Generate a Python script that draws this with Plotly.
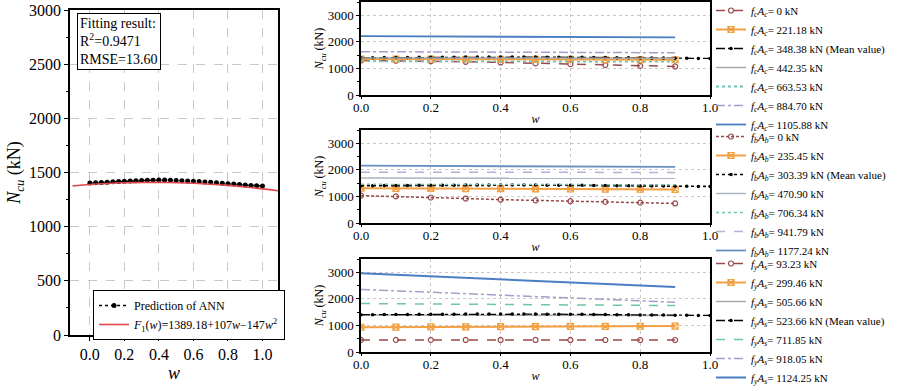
import plotly.graph_objects as go

FONT = "Liberation Serif"

# ---------------- data ----------------
# Left panel: ANN prediction and fitted curve
w_ann = [i / 30 for i in range(31)]
n_ann = [1402, 1405, 1408, 1411, 1414, 1417, 1420, 1422, 1424, 1426, 1428, 1429, 1430, 1430, 1429,
         1427, 1425, 1422, 1419, 1416, 1413, 1409, 1405, 1401, 1397, 1393, 1389, 1385, 1381, 1378, 1376]
w_fit = [-0.1, 0.0, 0.1, 0.2, 0.3, 0.4, 0.5, 0.6, 0.7, 0.8, 0.9, 1.0, 1.1]
n_fit = [1377.0, 1389.2, 1398.4, 1404.7, 1408.0, 1408.5, 1405.9, 1400.5, 1392.0, 1380.7, 1366.4, 1349.2, 1329.0]

w_series = [0.0, 0.1, 0.2, 0.3, 0.4, 0.5, 0.6, 0.7, 0.8, 0.9]

# Panel 1: f_c A_c
fc_labels = ["0 kN", "221.18 kN", "348.38 kN (Mean value)", "442.35 kN", "663.53 kN", "884.70 kN", "1105.88 kN"]
fc_0 = [1300, 1290, 1270, 1250, 1225, 1190, 1160, 1125, 1095, 1075]
fc_221 = [1355, 1352, 1349, 1346, 1343, 1340, 1337, 1334, 1330, 1326]
fc_442 = [1392, 1391, 1390, 1389, 1388, 1387, 1386, 1385, 1384, 1383]
fc_663 = [1272, 1270, 1268, 1266, 1264, 1262, 1260, 1258, 1256, 1254]
fc_884 = [1630, 1626, 1621, 1617, 1612, 1608, 1603, 1599, 1594, 1590]
fc_1105 = [2215, 2210, 2204, 2199, 2193, 2188, 2182, 2177, 2171, 2165]

# Panel 2: f_b A_b
fb_labels = ["0 kN", "235.45 kN", "303.39 kN (Mean value)", "470.90 kN", "706.34 kN", "941.79 kN", "1177.24 kN"]
fb_0 = [1030, 1000, 960, 920, 880, 850, 820, 795, 765, 735]
fb_235 = [1310, 1305, 1300, 1295, 1290, 1285, 1280, 1275, 1270, 1265]
fb_470 = [1695, 1693, 1692, 1690, 1689, 1687, 1686, 1684, 1682, 1680]
fb_706 = [1455, 1453, 1452, 1450, 1448, 1447, 1445, 1443, 1442, 1440]
fb_941 = [1912, 1911, 1910, 1909, 1908, 1907, 1906, 1905, 1904, 1903]
fb_1177 = [2160, 2154, 2149, 2143, 2138, 2132, 2127, 2121, 2116, 2110]

# Panel 3: f_y A_s
fy_labels = ["93.23 kN", "299.46 kN", "505.66 kN", "523.66 kN (Mean value)", "711.85 kN", "918.05 kN", "1124.25 kN"]
fy_93 = [456, 455, 455, 454, 454, 453, 453, 452, 452, 451]
fy_299 = [932, 937, 942, 947, 952, 957, 962, 966, 970, 975]
fy_505 = [1395, 1393, 1391, 1389, 1387, 1385, 1383, 1380, 1378, 1375]
fy_711 = [1823, 1815, 1806, 1798, 1790, 1781, 1773, 1764, 1755, 1747]
fy_918 = [2355, 2301, 2248, 2194, 2141, 2087, 2034, 1980, 1927, 1873]
fy_1124 = [2960, 2900, 2845, 2790, 2730, 2670, 2615, 2560, 2500, 2445]

# ---------------- styles ----------------
BROWN = "#9A4A4A"
ORANGE = "#F2A041"
GREY = "#A9A9A9"
TEAL = "#6CC4B2"
PURPLE = "#A99CCB"
BLUE = "#4A7EC2"
RED = "#E0474C"

fig = go.Figure()

# Left panel
fig.add_trace(go.Scatter(x=w_ann, y=n_ann, mode="lines+markers", name="Prediction of ANN",
                         line=dict(color="black", dash="dot", width=1.5),
                         marker=dict(color="black", size=5), xaxis="x", yaxis="y", legend="legend"))
fig.add_trace(go.Scatter(x=w_fit, y=n_fit, mode="lines", line_shape="spline",
                         name="<i>F</i><sub>1</sub>(<i>w</i>)=1389.18+107<i>w</i>−147<i>w</i><sup>2</sup>",
                         line=dict(color=RED, width=1.6), xaxis="x", yaxis="y", legend="legend"))


def add_panel(ax, leg, sym, labels, series, styles):
    for lab, ys, st in zip(labels, series, styles):
        xs = w_ann if st.get("mean") else w_series
        yv = n_ann if st.get("mean") else ys
        mode = "lines+markers" if st.get("marker") else "lines"
        kw = dict(x=xs, y=yv, mode=mode, name=f"{sym}= {lab}",
                  line=dict(color=st["color"], dash=st.get("dash", "solid"), width=st.get("width", 1.5)),
                  xaxis="x" + ax, yaxis="y" + ax, legend=leg)
        if st.get("marker"):
            kw["marker"] = st["marker"]
        fig.add_trace(go.Scatter(**kw))


circ = dict(symbol="circle-open", size=5, color=BROWN, line=dict(width=1.2, color=BROWN))
sqx = dict(symbol="square-x-open", size=6, color=ORANGE, line=dict(width=1.2, color=ORANGE))
dotm = dict(symbol="circle", size=3.5, color="black")

sym_c = "<i>f</i><sub><i>c</i></sub><i>A</i><sub><i>c</i></sub>"
sym_b = "<i>f</i><sub><i>b</i></sub><i>A</i><sub><i>b</i></sub>"
sym_y = "<i>f</i><sub><i>y</i></sub><i>A</i><sub><i>s</i></sub>"

add_panel("2", "legend2", sym_c, fc_labels,
          [fc_0, fc_221, None, fc_442, fc_663, fc_884, fc_1105],
          [dict(color=BROWN, dash="dash", marker=circ),
           dict(color=ORANGE, marker=sqx, width=2),
           dict(color="black", dash="dashdot", marker=dotm, mean=True, width=1.3),
           dict(color=GREY),
           dict(color=TEAL, dash="dot", width=1.8),
           dict(color=PURPLE, dash="dashdot"),
           dict(color=BLUE, width=1.8)])

add_panel("3", "legend3", sym_b, fb_labels,
          [fb_0, fb_235, None, fb_470, fb_706, fb_941, fb_1177],
          [dict(color=BROWN, dash="3px,2px", marker=circ),
           dict(color=ORANGE, marker=sqx, width=2),
           dict(color="black", dash="dot", marker=dotm, mean=True, width=1.6),
           dict(color="#A8B4C4"),
           dict(color=TEAL, dash="dot", width=1.5),
           dict(color="#B8B0D0", dash="dash"),
           dict(color="#6A90C0", width=1.8)])

add_panel("4", "legend4", sym_y, fy_labels,
          [fy_93, fy_299, fy_505, None, fy_711, fy_918, fy_1124],
          [dict(color=BROWN, dash="dash", marker=circ),
           dict(color=ORANGE, marker=sqx, width=2),
           dict(color=GREY),
           dict(color="black", dash="dashdot", marker=dotm, mean=True, width=1.3),
           dict(color=TEAL, dash="dash"),
           dict(color=PURPLE, dash="dashdot"),
           dict(color=BLUE, width=2)])

W, H = 899, 386


def px_x(p):
    return p / W


def px_y(p):
    return 1 - p / H


axis_common = dict(showline=True, linecolor="black", linewidth=1.5, mirror=True, ticks="outside",
                   tickcolor="black", zeroline=False, gridcolor="#C8C8C8", griddash="dot", automargin=False)

ytitle = "<i>N</i><sub><i>cu</i></sub> (kN)"

layout = dict(
    width=W, height=H, margin=dict(l=0, r=0, t=0, b=0, autoexpand=False),
    paper_bgcolor="white", plot_bgcolor="white",
    font=dict(family=FONT, color="black", size=12),
    xaxis=dict(axis_common, domain=[px_x(70), px_x(278)], range=[-0.115, 1.09], anchor="y",
               tickvals=[0, 0.2, 0.4, 0.6, 0.8, 1.0], tickformat=".1f", tickfont=dict(size=16),
               title=dict(text="<i>w</i>", font=dict(size=18), standoff=1), griddash="dash", ticklen=4),
    yaxis=dict(axis_common, domain=[px_y(335), px_y(10)], range=[0, 3000], anchor="x",
               tickvals=[0, 500, 1000, 1500, 2000, 2500, 3000], tickfont=dict(size=16),
               title=dict(text=ytitle, font=dict(size=18), standoff=4), griddash="dash", ticklen=4,
               minor=dict(ticks="outside", ticklen=2, tickcolor="black", dtick=250, showgrid=False)),
)

panels = [("2", 2, 95), ("3", 130, 223), ("4", 259, 352)]
for ax, top, bot in panels:
    layout["xaxis" + ax] = dict(axis_common, domain=[px_x(361), px_x(710)], range=[0, 1.0], anchor="y" + ax,
                                tickvals=[0, 0.2, 0.4, 0.6, 0.8, 1.0], tickformat=".1f", tickfont=dict(size=13),
                                title=dict(text="<i>w</i>", font=dict(size=12), standoff=0), ticklen=2,
                                ticklabelstandoff=-2)
    layout["yaxis" + ax] = dict(axis_common, domain=[px_y(bot), px_y(top)], range=[0, 3500], anchor="x" + ax,
                                tickvals=[0, 1000, 2000, 3000], tickfont=dict(size=13),
                                title=dict(text=ytitle, font=dict(size=12), standoff=1), ticklen=3,
                                minor=dict(ticks="outside", ticklen=2, tickcolor="black", dtick=500, showgrid=False))

leg_common = dict(bgcolor="rgba(0,0,0,0)", tracegroupgap=0, itemwidth=30, xanchor="left", yanchor="top",
                  font=dict(family=FONT, size=11))
layout["legend"] = dict(leg_common, x=px_x(93), y=px_y(290), bordercolor="black", borderwidth=1,
                        bgcolor="white", font=dict(family=FONT, size=12))
layout["legend2"] = dict(leg_common, x=px_x(711), y=px_y(-4))
layout["legend3"] = dict(leg_common, x=px_x(711), y=px_y(122))
layout["legend4"] = dict(leg_common, x=px_x(711), y=px_y(249))

layout["annotations"] = [dict(
    xref="paper", yref="paper", x=px_x(77), y=px_y(13), xanchor="left", yanchor="top",
    text="Fitting result:<br>R<sup>2</sup>=0.9471<br>RMSE=13.60", align="left", showarrow=False,
    font=dict(family=FONT, size=14), bordercolor="black", borderwidth=1, bgcolor="white", borderpad=2)]

fig.update_layout(**layout)
fig.write_html("out.html", config={"displayModeBar": False},
               post_script="document.body.style.margin='0px';")
